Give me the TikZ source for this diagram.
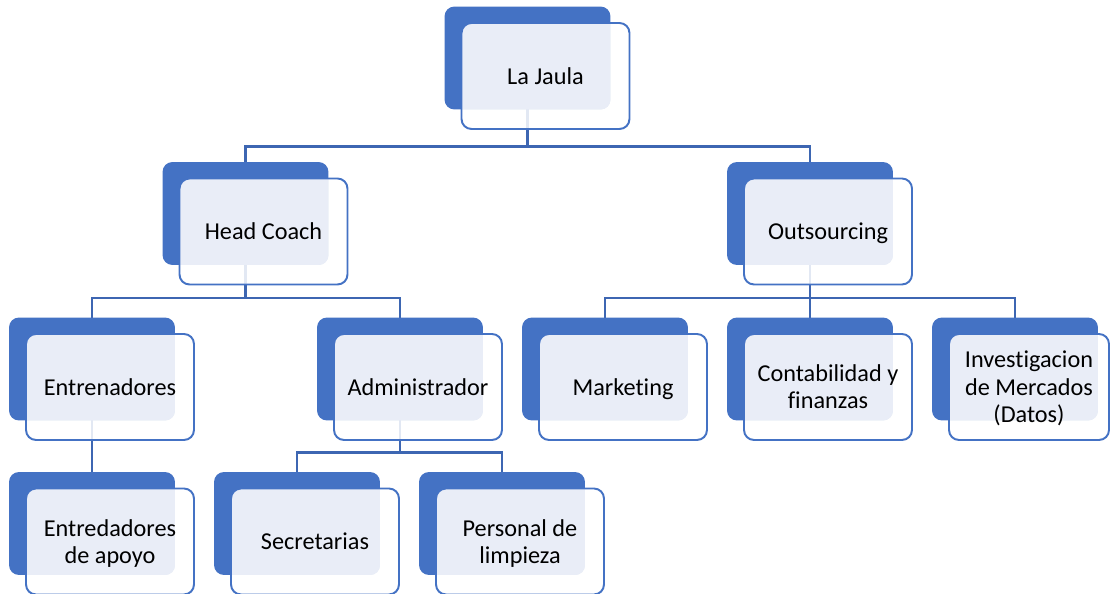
\documentclass[tikz,border=0pt]{standalone}
\usepackage{fontspec}
\setmainfont[Ligatures = NoCommon]{Carlito}
\usepackage{tikz}
\usetikzlibrary{positioning}
\definecolor{oazul}{HTML}{4472C4}
\definecolor{oclaro}{HTML}{E9EDF7}
\definecolor{olinea}{HTML}{3D66B2}
\pgfdeclarelayer{fondo}
\pgfsetlayers{fondo,main}
\tikzset{atras/.style = {fill = oazul, rounded corners = 0.2cm, inner sep = 0pt, outer sep = 0pt,
                         minimum width = 3.32cm, minimum height = 2.06cm},
         adelante/.style = {fill = white, fill opacity = 0.85, inner sep = 0pt, outer sep = 0pt,
                            rounded corners = 0.2cm, anchor = north west, minimum height = 2.12cm},
         borde/.style = {draw = oazul, line width = 1.1pt, rounded corners = 0.2cm},
         texto/.style = {align = center, yshift = -0.055cm, font = \fontsize{13.8}{15.5}\selectfont},
         conector/.style = {draw = olinea, line width = 1.35pt}}
\newcommand{\puesto}[5][3.36cm]{%
  \node [atras] (#2-b) at (#3, #4) {};
  \node [adelante, minimum width = #1] (#2) at ([shift = {(0.34cm, -0.33cm)}]#2-b.north west) {};
  \begin{scope}
    \clip [rounded corners = 0.2cm] (#2-b.south west) rectangle (#2-b.north east);
    \fill [oclaro, rounded corners = 0.2cm] (#2.south west) rectangle (#2.north east);
  \end{scope}
  \draw [borde] (#2.south west) rectangle (#2.north east);
  \node [texto] (#2-t) at (#2.center) {\strut#5\strut};
}

\begin{document}
\begin{tikzpicture}[x = 0.02cm, y = -0.02cm]
  \useasboundingbox (0, 0) rectangle (1112, 594);
  \puesto{raiz}{527.5}{58}{La Jaula}
  \puesto{head}{245.5}{213.5}{Head Coach}
  \puesto{outs}{810}{213.5}{Outsourcing}
  \puesto{ent}{92}{369}{Entrenadores}
  \puesto{adm}{400}{369}{Administrador}
  \puesto{mkt}{605}{369}{Marketing}
  \puesto{cont}{810}{369}{Contabilidad y\\finanzas}
  \puesto[3.2cm]{inv}{1015}{369}{Investigacion\\de Mercados\\(Datos)}
  \puesto{apoyo}{92}{523.5}{Entredadores\\de apoyo}
  \puesto{sec}{297}{523.5}{Secretarias}
  \puesto{limp}{502}{523.5}{Personal de\\limpieza}
  \begin{pgfonlayer}{fondo}
    \draw [conector] (raiz-b.south) -- ++(0, 37) -| (head-b.north);
    \draw [conector] (raiz-b.south) -- ++(0, 37) -| (outs-b.north);
    \draw [conector] (head-b.south) -- ++(0, 33) -| (ent-b.north);
    \draw [conector] (head-b.south) -- ++(0, 33) -| (adm-b.north);
    \draw [conector] (outs-b.south) -- ++(0, 33) -| (mkt-b.north);
    \draw [conector] (outs-b.south) -- ++(0, 33) -| (cont-b.north);
    \draw [conector] (outs-b.south) -- ++(0, 33) -| (inv-b.north);
    \draw [conector] (ent-b.south) -- (apoyo-b.north);
    \draw [conector] (adm-b.south) -- ++(0, 32) -| (sec-b.north);
    \draw [conector] (adm-b.south) -- ++(0, 32) -| (limp-b.north);
  \end{pgfonlayer}
\end{tikzpicture}
\end{document}
